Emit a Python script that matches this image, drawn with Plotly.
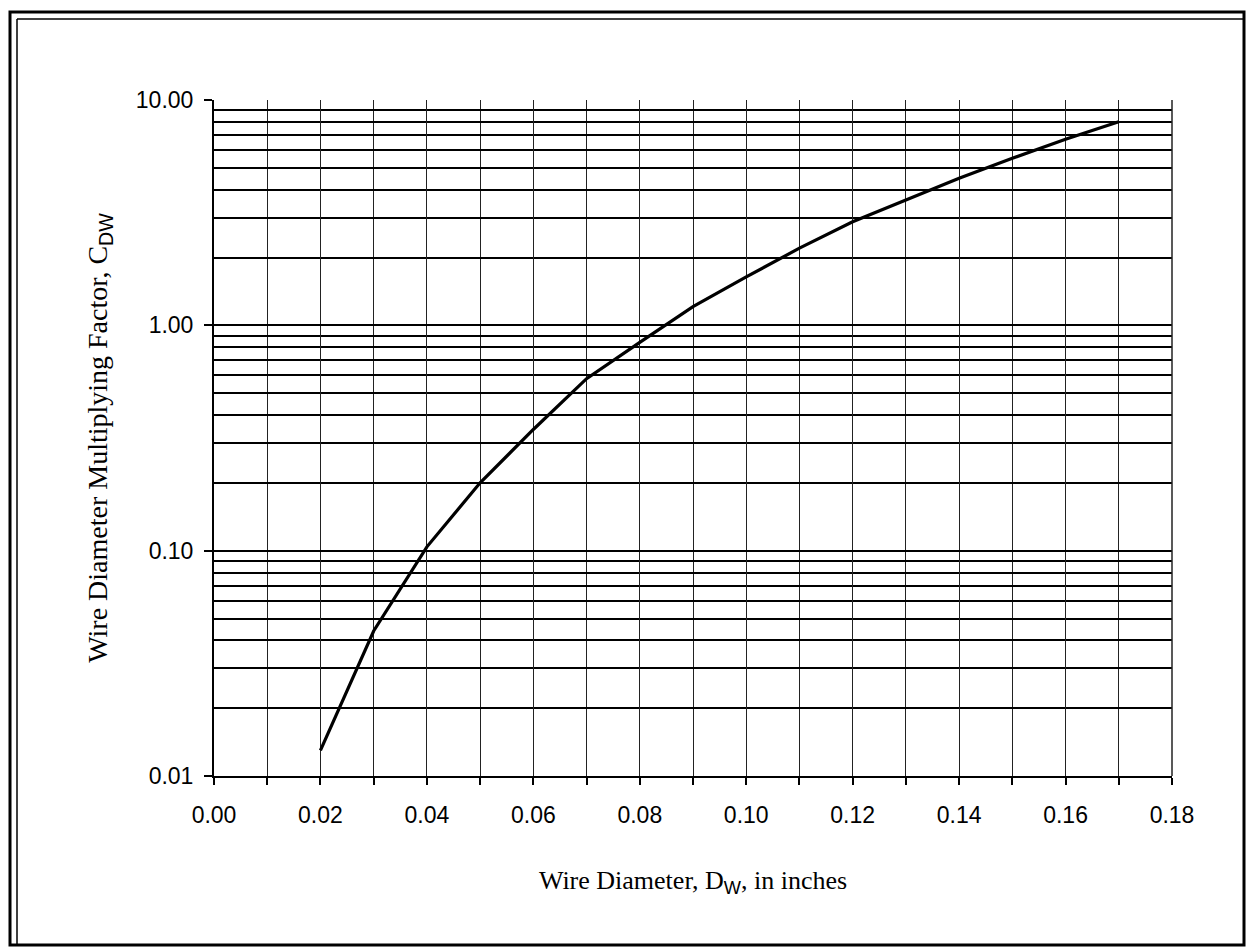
import plotly.graph_objects as go

# ── Data ─────────────────────────────────────────────────────────────────────
wire_diameter = [0.02, 0.03, 0.04, 0.05, 0.06, 0.07, 0.08, 0.09,
                 0.10, 0.11, 0.12, 0.13, 0.14, 0.15, 0.16, 0.17]
factor_cdw = [0.013, 0.044, 0.104, 0.20, 0.345, 0.58, 0.84, 1.21,
              1.64, 2.20, 2.88, 3.60, 4.49, 5.51, 6.70, 8.0]

x_tick_vals = [0.00, 0.02, 0.04, 0.06, 0.08, 0.10, 0.12, 0.14, 0.16, 0.18]
x_tick_text = ["0.00", "0.02", "0.04", "0.06", "0.08", "0.10",
               "0.12", "0.14", "0.16", "0.18"]
y_tick_vals = [0.01, 0.1, 1, 10]
y_tick_text = ["0.01", "0.10", "1.00", "10.00"]

# ── Layout constants ─────────────────────────────────────────────────────────
W, H = 1248, 949
L, R, T, B = 214, 1172, 100, 776
SANS = "Liberation Sans, Arial, sans-serif"
SERIF = "Liberation Serif, Times New Roman, serif"

# minor log gridlines 2..9 in each decade
y_minor = [m * 10.0 ** e for e in (-2, -1, 0) for m in range(2, 10)]


def px_to_paper(px, py):
    return (px - L) / (R - L), (B - py) / (B - T)


fig = go.Figure(go.Scatter(
    x=wire_diameter, y=factor_cdw, mode="lines",
    line=dict(color="black", width=3.2),
    hoverinfo="x+y", showlegend=False,
))

sub = "<span style='font-family:Liberation Sans, Arial'>{}</span>"

fig.update_xaxes(
    range=[0, 0.18], tickvals=x_tick_vals, ticktext=x_tick_text,
    showgrid=True, gridcolor="#222", gridwidth=1,
    ticks="outside", ticklen=7, tickwidth=1.5, tickcolor="black",
    minor=dict(dtick=0.01, tick0=0, ticks="outside", ticklen=7,
               tickcolor="black", showgrid=True, gridcolor="#222", gridwidth=1),
    showline=True, linecolor="black", linewidth=2, mirror=False,
    zeroline=False, ticklabelstandoff=10,
    tickfont=dict(family=SANS, size=23, color="black"),
    title=dict(text="Wire Diameter, D<sub>" + sub.format("W") + "</sub>, in inches",
               font=dict(family=SERIF, size=26, color="black"), standoff=44),
)
fig.update_yaxes(
    type="log", range=[-2, 1], tickvals=y_tick_vals, ticktext=y_tick_text,
    showgrid=True, gridcolor="black", gridwidth=2,
    ticks="outside", ticklen=8, tickwidth=1.5, tickcolor="black",
    minor=dict(tickvals=y_minor, ticks="", showgrid=True,
               gridcolor="black", gridwidth=2),
    showline=True, linecolor="black", linewidth=2,
    zeroline=False, ticklabelstandoff=6,
    tickfont=dict(family=SANS, size=23, color="black"),
    title=dict(text="Wire Diameter Multiplying Factor, C<sub>" + sub.format("DW") + "</sub>",
               font=dict(family=SERIF, size=28, color="black"), standoff=20),
)

# double frame round the whole page (left/top doubled as in the scan)
x0, y0 = px_to_paper(10, 945)
x1, y1 = px_to_paper(1244, 12)
xi, yi = px_to_paper(17, 19)
fig.add_shape(type="rect", xref="paper", yref="paper", x0=x0, y0=y0, x1=x1, y1=y1,
              line=dict(color="black", width=3), layer="below")
fig.add_shape(type="line", xref="paper", yref="paper", x0=xi, y0=y0, x1=xi, y1=yi,
              line=dict(color="black", width=1.5))
fig.add_shape(type="line", xref="paper", yref="paper", x0=xi, y0=yi, x1=x1, y1=yi,
              line=dict(color="black", width=1.5))
# right edge of the plot area (vertical gridline at 0.18)
fig.add_shape(type="line", xref="paper", yref="paper", x0=1, y0=0, x1=1, y1=1,
              line=dict(color="#222", width=1.5))

fig.update_layout(
    width=W, height=H,
    margin=dict(l=L, r=W - R, t=T, b=H - B, autoexpand=False),
    paper_bgcolor="white", plot_bgcolor="white",
    font=dict(family=SANS, color="black"),
)

# drop the default 8px body margin so the page frame fits the window
fig.write_html("out.html", config={"displayModeBar": False},
               post_script="document.body.style.margin='0';")
